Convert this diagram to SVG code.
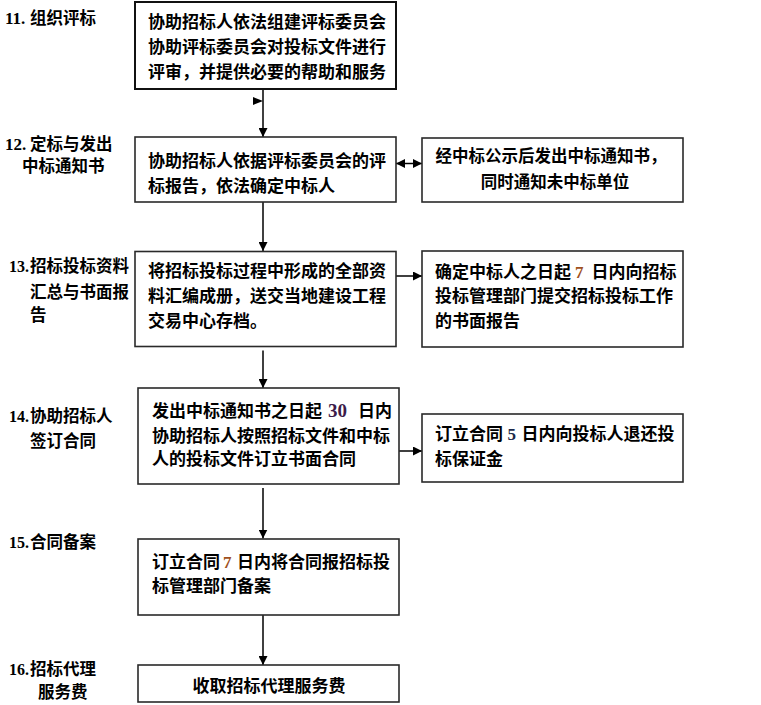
<svg xmlns="http://www.w3.org/2000/svg" width="761" height="705" viewBox="0 0 761 705">
<style>
  .box { fill: #ffffff; stroke: #2a2a2a; stroke-width: 1.6; }
  .t { font-family: "Liberation Serif", "Noto Sans CJK SC", serif; font-weight: bold; font-size: 17px; fill: #000; }
  .lbl { font-family: "Liberation Serif", "Noto Sans CJK SC", serif; font-weight: bold; font-size: 16.5px; fill: #000; }
  .num { font-family: "Liberation Serif", serif; font-weight: bold; font-size: 17px; fill: #000; }
  .num2 { font-family: "Liberation Serif", serif; font-weight: bold; font-size: 16px; fill: #000; }
  .c { text-anchor: middle; }
  .ln { stroke: #000; stroke-width: 1.5; fill: none; }
  .n7 { fill: #a0501e; }
  .n30 { fill: #3d1c4a; }
  .n5 { fill: #1c2a4a; }
</style>
<defs>
  <marker id="ah" markerUnits="userSpaceOnUse" markerWidth="9" markerHeight="9" viewBox="0 0 10 10" refX="10" refY="5" orient="auto-start-reverse">
    <path d="M0,0 L10,5 L0,10 z" fill="#000"/>
  </marker>
</defs>
<rect width="761" height="705" fill="#ffffff"/>

<g id="labels">
  <text class="num" x="5" y="23.5">11.</text>
  <text class="lbl" x="30" y="23.5">组织评标</text>
  <text class="num" x="5" y="149.5">12.</text>
  <text class="lbl" x="30" y="149.5">定标与发出</text>
  <text class="lbl" x="22" y="171.5">中标通知书</text>
  <text class="num2" x="9" y="271.5">13.</text>
  <text class="lbl" x="30" y="271.5">招标投标资料</text>
  <text class="lbl" x="30" y="297.5">汇总与书面报</text>
  <text class="lbl" x="30" y="321">告</text>
  <text class="num2" x="9" y="421.5">14.</text>
  <text class="lbl" x="30" y="421.5">协助招标人</text>
  <text class="lbl" x="30" y="446.5">签订合同</text>
  <text class="num2" x="9" y="548">15.</text>
  <text class="lbl" x="30" y="548">合同备案</text>
  <text class="num2" x="9" y="674.5">16.</text>
  <text class="lbl" x="30" y="674.5">招标代理</text>
  <text class="lbl" x="38" y="698">服务费</text>
</g>

<g id="connectors">
  <line class="ln" x1="263" y1="89" x2="263" y2="137" marker-end="url(#ah)"/>
  <polygon points="253,97 263,101 253,105" fill="#000"/>
  <line class="ln" x1="263" y1="202" x2="263" y2="251" marker-end="url(#ah)"/>
  <line class="ln" x1="263" y1="350.5" x2="263" y2="388" marker-end="url(#ah)"/>
  <line class="ln" x1="263" y1="488" x2="263" y2="538.5" marker-end="url(#ah)"/>
  <line class="ln" x1="263" y1="615" x2="263" y2="665" marker-end="url(#ah)"/>
  <line class="ln" x1="396" y1="163.5" x2="422" y2="163.5" marker-start="url(#ah)" marker-end="url(#ah)"/>
  <line class="ln" x1="396" y1="276" x2="422" y2="276" marker-end="url(#ah)"/>
  <line class="ln" x1="399" y1="451" x2="422" y2="451" marker-end="url(#ah)"/>
</g>

<g id="n11">
  <rect class="box" x="135" y="2" width="261" height="87" style="stroke-width:2;stroke:#111"/>
  <text class="t" x="148" y="27.5">协助招标人依法组建评标委员会</text>
  <text class="t" x="148" y="53">协助评标委员会对投标文件进行</text>
  <text class="t" x="148" y="77.5">评审，并提供必要的帮助和服务</text>
</g>

<g id="n12">
  <rect class="box" x="135" y="137" width="261" height="65"/>
  <text class="t" x="148" y="166.5">协助招标人依据评标委员会的评</text>
  <text class="t" x="148" y="191.5">标报告，依法确定中标人</text>
</g>

<g id="n12b">
  <rect class="box" x="422" y="138" width="261" height="64"/>
  <text class="t c" x="551" y="161.5" style="font-size:16.5px">经中标公示后发出中标通知书，</text>
  <text class="t c" x="555" y="188" style="font-size:16.5px">同时通知未中标单位</text>
</g>

<g id="n13">
  <rect class="box" x="135" y="251.5" width="261" height="95"/>
  <text class="t" x="148" y="276.5">将招标投标过程中形成的全部资</text>
  <text class="t" x="148" y="301.5">料汇编成册，送交当地建设工程</text>
  <text class="t" x="148" y="326.5">交易中心存档。</text>
</g>

<g id="n13b">
  <rect class="box" x="422" y="251" width="261" height="96"/>
  <text class="t" x="435" y="278">确定中标人之日起<tspan class="n7" x="575">7</tspan><tspan x="591.5">日内向招标</tspan></text>
  <text class="t" x="435" y="302">投标管理部门提交招标投标工作</text>
  <text class="t" x="435" y="326.5">的书面报告</text>
</g>

<g id="n14">
  <rect class="box" x="138" y="388" width="261" height="96"/>
  <text class="t" x="152" y="416.5">发出中标通知书之日起<tspan class="n30" x="328" style="font-size:19px">30</tspan><tspan x="358">日内</tspan></text>
  <text class="t" x="152" y="441.5">协助招标人按照招标文件和中标</text>
  <text class="t" x="152" y="465">人的投标文件订立书面合同</text>
</g>

<g id="n14b">
  <rect class="box" x="422" y="414" width="261" height="68"/>
  <text class="t" x="435" y="440">订立合同<tspan class="n5" x="507.5">5</tspan><tspan x="521.5">日内向投标人退还投</tspan></text>
  <text class="t" x="435" y="465">标保证金</text>
</g>

<g id="n15">
  <rect class="box" x="138" y="539" width="261" height="76"/>
  <text class="t" x="152" y="568">订立合同<tspan class="n7" x="223">7</tspan><tspan x="237">日内将合同报招标投</tspan></text>
  <text class="t" x="152" y="591.5">标管理部门备案</text>
</g>

<g id="n16">
  <rect class="box" x="138" y="665" width="261" height="37"/>
  <text class="t c" x="269" y="691.5">收取招标代理服务费</text>
</g>
</svg>
